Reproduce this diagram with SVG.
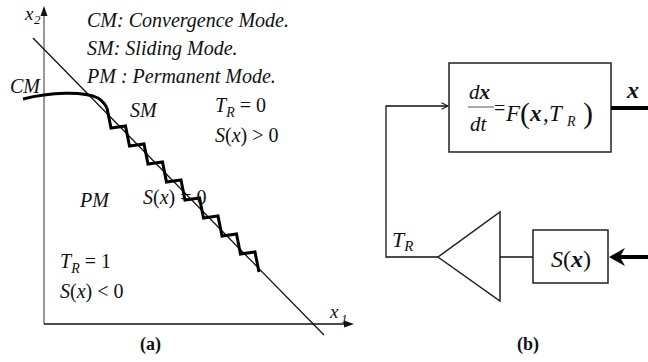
<svg xmlns="http://www.w3.org/2000/svg" width="648" height="362" viewBox="0 0 648 362" font-family="'Liberation Serif', 'DejaVu Serif', serif">
<style>
text{font-family:'Liberation Serif','DejaVu Serif',serif;fill:#111}
.i{font-style:italic}
.b{font-weight:bold}
.thin{stroke:#111;stroke-width:1.3;fill:none}
.thick{stroke:#000;stroke-width:3;fill:none;stroke-linejoin:miter}
.box{fill:#fff;stroke:#222;stroke-width:1.5}
</style>
<defs>
<marker id="open" viewBox="0 0 10 10" refX="9" refY="5" markerWidth="8" markerHeight="8" markerUnits="userSpaceOnUse" orient="auto">
<path d="M1,1 L9,5 L1,9" fill="none" stroke="#111" stroke-width="1.3"/>
</marker>
</defs>
<rect width="648" height="362" fill="#fff"/>

<g id="panel-a">
<g id="axes">
<line x1="44" y1="14" x2="44" y2="324" stroke="#777" stroke-width="1.5"/>
<polygon points="44,6 40.5,16 47.5,16" fill="#111"/>
<line x1="44" y1="324" x2="346" y2="324" stroke="#111" stroke-width="1.5"/>
<polygon points="354,324 344,320.5 344,327.5" fill="#111"/>
<text x="25" y="20" class="i" font-size="19">x</text>
<text x="34" y="24" class="i" font-size="13">2</text>
<text x="330" y="318" class="i" font-size="19">x</text>
<text x="341" y="323" class="i" font-size="13">1</text>
</g>
<line id="surface" class="thin" x1="33" y1="38" x2="324" y2="335"/>
<path id="cm-curve" class="thick" d="M23,99 C50,92 84,91 98,98 Q104,102 107,108"/>
<path id="sm-zigzag" class="thick" d="M107,108 L111,128 L125.5,126 L129.5,146 L144,144 L148,164 L162.5,162 L166.5,182 L181,180 L185,200 L199.5,198 L203.5,218 L218,216 L222,236 L236.5,234 L240.5,254 L255,252 L259,272"/>
<g id="legend" class="i" font-size="20">
<text x="87" y="27">CM: Convergence Mode.</text>
<text x="87" y="55">SM: Sliding Mode.</text>
<text x="87" y="83">PM : Permanent Mode.</text>
</g>
<text x="10" y="93" class="i" font-size="20">CM</text>
<text x="130" y="117" class="i" font-size="20">SM</text>
<text x="80" y="207" class="i" font-size="20">PM</text>
<g id="region-top" font-size="20">
<text x="215" y="112"><tspan class="i">T</tspan><tspan class="i" font-size="14" dy="5">R</tspan><tspan dy="-5"> = 0</tspan></text>
<text x="215" y="142"><tspan class="i">S</tspan>(<tspan class="i">x</tspan>) &gt; 0</text>
</g>
<text x="143" y="204" font-size="20"><tspan class="i">S</tspan>(<tspan class="i">x</tspan>) = 0</text>
<g id="region-bottom" font-size="20">
<text x="60" y="268"><tspan class="i">T</tspan><tspan class="i" font-size="14" dy="5">R</tspan><tspan dy="-5"> = 1</tspan></text>
<text x="60" y="298"><tspan class="i">S</tspan>(<tspan class="i">x</tspan>) &lt; 0</text>
</g>
<text x="140" y="350" class="b" font-size="18">(a)</text>
</g>

<g id="panel-b">
<g id="system-block">
<rect class="box" x="449" y="63" width="162" height="89"/>
<text x="469" y="99" font-size="21"><tspan class="i">d</tspan><tspan class="i b">x</tspan></text>
<line x1="468" y1="107" x2="494" y2="107" stroke="#555" stroke-width="1"/>
<text x="470" y="131" class="i" font-size="21">dt</text>
<text x="494" y="115" font-size="20">=</text>
<text x="506" y="121" class="i" font-size="23">F</text>
<text x="520" y="123" font-size="30">(</text>
<text x="530" y="121" class="i b" font-size="23">x</text>
<text x="543" y="121" font-size="23">,</text>
<text x="549" y="121" class="i" font-size="23">T</text>
<text x="567" y="126" class="i" font-size="14">R</text>
<text x="583" y="123" font-size="30">)</text>
</g>
<g id="gain-block">
<polygon class="box" points="438,257 500,212 500,301"/>
</g>
<g id="switch-block">
<rect class="box" x="533" y="230" width="75" height="53"/>
<text x="571" y="267" font-size="24" text-anchor="middle"><tspan class="i">S</tspan>(<tspan class="i b">x</tspan>)</text>
</g>
<g id="connectors">
<polyline class="thin" points="438,257 386,257 386,106 448,106" marker-end="url(#open)"/>
<line class="thin" x1="500" y1="257" x2="533" y2="257"/>
<line x1="611" y1="108" x2="648" y2="108" stroke="#000" stroke-width="4"/>
<line x1="648" y1="257" x2="618" y2="257" stroke="#000" stroke-width="4"/>
<polygon points="609,257 625,248 620,257 625,266" fill="#000"/>
</g>
<text x="627" y="98" class="i b" font-size="24">x</text>
<text x="392" y="247" font-size="22"><tspan class="i">T</tspan><tspan class="i" font-size="15" dy="4">R</tspan></text>
<text x="517" y="350" class="b" font-size="18">(b)</text>
</g>
</svg>
